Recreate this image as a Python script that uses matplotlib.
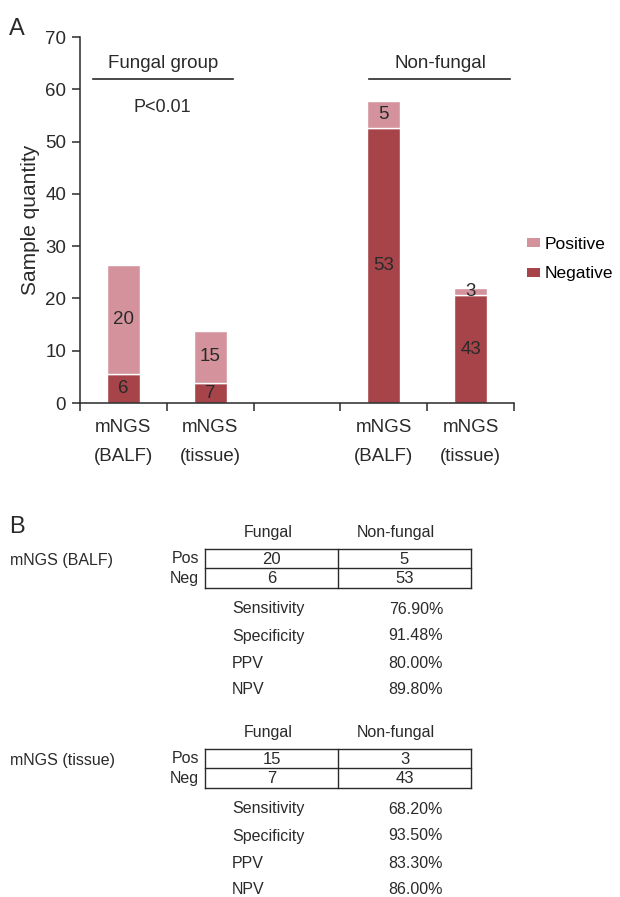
import numpy as np
import matplotlib.pyplot as plt
from matplotlib.patches import Patch

plt.rcParams['font.family'] = ['Liberation Sans', 'DejaVu Sans']

# panel A data
positions = [0, 1, 3, 4]
neg_heights = [5.5, 3.8, 52.6, 20.6]
pos_heights = [20.8, 10.0, 5.2, 1.3]
neg_labels = ['6', '7', '53', '43']
pos_labels = ['20', '15', '5', '3']
cat_labels = ['mNGS\n(BALF)', 'mNGS\n(tissue)', 'mNGS\n(BALF)', 'mNGS\n(tissue)']

# panel B data
col_heads = ['Fungal', 'Non-fungal']
row_heads = ['Pos', 'Neg']
metrics = ['Sensitivity', 'Specificity', 'PPV', 'NPV']
balf_counts = [['20', '5'], ['6', '53']]
balf_stats = ['76.90%', '91.48%', '80.00%', '89.80%']
tissue_counts = [['15', '3'], ['7', '43']]
tissue_stats = ['68.20%', '93.50%', '83.30%', '86.00%']

neg_col = '#a6444a'
pos_col = '#d4939c'
dark = '#2a2a2a'
fs = 13.5

W, H = 620, 897
fig = plt.figure(figsize=(W / 100, H / 100), dpi=100)

# ---- panel A ----
ax = fig.add_axes([80 / W, (H - 403) / H, (514 - 80) / W, (403 - 37) / H])
ax.bar(positions, neg_heights, width=0.38, color=neg_col, edgecolor='white', linewidth=1)
ax.bar(positions, pos_heights, width=0.38, bottom=neg_heights, color=pos_col,
       edgecolor='white', linewidth=1)
for x, n, p, nl, pl, cl in zip(positions, neg_heights, pos_heights, neg_labels,
                               pos_labels, cat_labels):
    ax.text(x, n / 2, nl, ha='center', va='center', fontsize=fs, color=dark)
    ax.text(x, n + p / 2, pl, ha='center', va='center', fontsize=fs, color=dark)
    line1, line2 = cl.split('\n')
    ax.text(x, -4.6, line1, ha='center', va='center', fontsize=fs, color=dark)
    ax.text(x, -10.2, line2, ha='center', va='center', fontsize=fs, color=dark)

ax.set_xlim(-0.5, 4.5)
ax.set_ylim(0, 70)
ax.set_xticks(np.arange(-0.5, 5, 1))
ax.set_xticklabels([])
ax.set_yticks(range(0, 71, 10))
ax.tick_params(axis='both', colors=dark, labelsize=fs, length=6, width=1.1)
ax.tick_params(axis='y', pad=4)
for s in ['top', 'right']:
    ax.spines[s].set_visible(False)
for s in ['left', 'bottom']:
    ax.spines[s].set_color(dark)
    ax.spines[s].set_linewidth(1.1)
ax.set_ylabel('Sample quantity', fontsize=15, color=dark, labelpad=4)

handles = [Patch(facecolor=pos_col, label='Positive'), Patch(facecolor=neg_col, label='Negative')]
ax.legend(handles=handles, loc='upper left', bbox_to_anchor=(518 / W, (H - 228) / H),
          bbox_transform=fig.transFigure, frameon=False, fontsize=12.5, borderpad=0,
          handlelength=0.75, handleheight=0.45, handletextpad=0.3, labelspacing=0.85)

# ---- overlay in pixel coordinates ----
ov = fig.add_axes([0, 0, 1, 1])
ov.set_xlim(0, W)
ov.set_ylim(H, 0)
ov.axis('off')

ov.text(9, 29, 'A', fontsize=17, color=dark, va='center', ha='left')
ov.text(163, 64, 'Fungal group', fontsize=fs, color=dark, ha='center', va='center')
ov.plot([93, 233], [79.5, 79.5], color=dark, lw=1.2)
ov.text(162, 107, 'P<0.01', fontsize=13, color=dark, ha='center', va='center')
ov.text(440, 64, 'Non-fungal', fontsize=fs, color=dark, ha='center', va='center')
ov.plot([369, 510], [79.5, 79.5], color=dark, lw=1.2)

ov.text(9, 527, 'B', fontsize=17, color=dark, va='center', ha='left')


def draw_block(y0, name, counts, stats):
    ov.text(10, y0 + 27, name, fontsize=11.5, color=dark, va='center', ha='left')
    ov.text(268, y0, col_heads[0], fontsize=11.5, color=dark, ha='center', va='center')
    ov.text(396, y0, col_heads[1], fontsize=11.5, color=dark, ha='center', va='center')
    top, mid, bot = y0 + 16.3, y0 + 35.3, y0 + 54.7
    xl, xm, xr = 205, 338, 471
    for yy in [top, mid, bot]:
        ov.plot([xl, xr], [yy, yy], color=dark, lw=1.0)
    for xx in [xl, xm, xr]:
        ov.plot([xx, xx], [top, bot], color=dark, lw=1.0)
    for r, yy in enumerate([(top + mid) / 2, (mid + bot) / 2]):
        ov.text(199, yy, row_heads[r], fontsize=11.5, color=dark, ha='right', va='center')
        ov.text((xl + xm) / 2, yy + 0.5, counts[r][0], fontsize=12, color=dark,
                ha='center', va='center')
        ov.text((xm + xr) / 2, yy + 0.5, counts[r][1], fontsize=12, color=dark,
                ha='center', va='center')
    for i, (m, v) in enumerate(zip(metrics, stats)):
        yy = y0 + 76 + 27 * i
        ov.text(232, yy, m, fontsize=11.5, color=dark, ha='left', va='center')
        ov.text(443, yy, v, fontsize=11.5, color=dark, ha='right', va='center')


draw_block(533, 'mNGS (BALF)', balf_counts, balf_stats)
draw_block(733, 'mNGS (tissue)', tissue_counts, tissue_stats)

fig.savefig('out.png', dpi=100)
